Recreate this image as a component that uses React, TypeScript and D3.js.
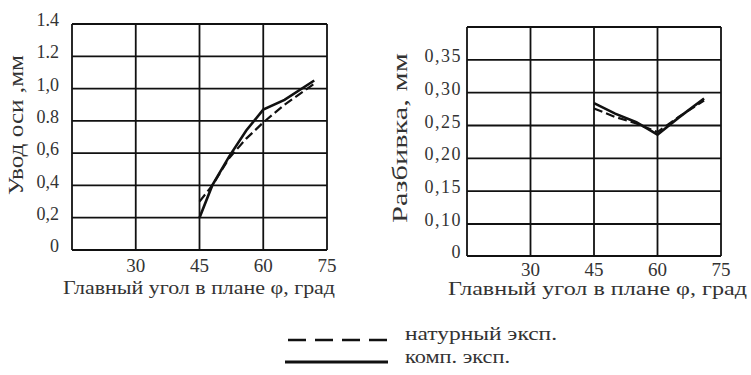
import React from "react";
import * as d3 from "d3";

// ---------- data ----------
const xTicks = [30, 45, 60, 75];

const leftYTicks = [0, 0.2, 0.4, 0.6, 0.8, 1.0, 1.2, 1.4];
const leftYLabels = ["0", "0,2", "0,4", "0,6", "0.8", "1,0", "1.2", "1.4"];

const leftAngle = [45, 48, 52, 56, 60, 65, 72];
const leftComp = [0.2, 0.4, 0.58, 0.74, 0.87, 0.93, 1.05];
const leftNat = [0.3, 0.4, 0.57, 0.69, 0.79, 0.9, 1.03];

const rightYTicks = [0, 0.1, 0.15, 0.2, 0.25, 0.3, 0.35, 0.4];
const rightYLabels = ["0", "0,10", "0,15", "0,20", "0,25", "0,30", "0,35", ""];

const rightAngle = [45, 50, 55, 60, 65, 71];
const rightComp = [0.284, 0.268, 0.255, 0.236, 0.262, 0.291];
const rightNat = [0.276, 0.263, 0.253, 0.24, 0.263, 0.288];

const xTitle = "Главный угол в плане φ, град";
const leftYTitle = "Увод оси ,мм";
const rightYTitle = "Разбивка, мм";
const legendNat = "натурный эксп.";
const legendComp = "комп. эксп.";

const FONT = "'Liberation Serif', 'DejaVu Serif', serif";
const INK = "#111";
const TXT = "#333";

type Panel = {
  x: d3.ScaleLinear<number, number>;
  y: d3.ScaleLinear<number, number>;
  yTicks: number[];
  yLabels: string[];
  angle: number[];
  comp: number[];
  nat: number[];
  yTitle: string;
  yTitlePos: [number, number, number];
  labelEnd: number;
  labelSpacing: number;
  tickY: number;
  titleY: number;
  titleSpan: [number, number];
};

function PanelView({ p }: { p: Panel }) {
  const [x0, x1] = p.x.range();
  const yBottom = p.y(p.yTicks[0]);
  const yTop = p.y(p.yTicks[p.yTicks.length - 1]);
  const line = (vals: number[]) =>
    d3
      .line<number>()
      .x((_, i) => p.x(p.angle[i]))
      .y((v) => p.y(v))
      .curve(d3.curveLinear)(vals) || "";
  return (
    <g>
      {/* horizontal grid */}
      {p.yTicks.map((t) => (
        <line key={"h" + t} x1={x0} x2={x1} y1={p.y(t)} y2={p.y(t)} stroke={INK} strokeWidth={1.8} />
      ))}
      {/* vertical grid */}
      {[15, ...xTicks].map((t) => (
        <line key={"v" + t} x1={p.x(t)} x2={p.x(t)} y1={yTop} y2={yBottom} stroke={INK} strokeWidth={1.8} />
      ))}
      {/* y labels */}
      {p.yTicks.map((t, i) => (
        <text
          key={"yl" + t}
          x={p.labelEnd}
          y={p.y(t) - 2}
          textAnchor="end"
          dominantBaseline="middle"
          fontFamily={FONT}
          fontSize={18}
          letterSpacing={p.labelSpacing}
          fill={TXT}
        >
          {p.yLabels[i]}
        </text>
      ))}
      {/* x labels */}
      {xTicks.map((t) => (
        <text
          key={"xl" + t}
          x={p.x(t)}
          y={p.tickY}
          textAnchor="middle"
          dominantBaseline="middle"
          fontFamily={FONT}
          fontSize={19}
          fill={TXT}
        >
          {t}
        </text>
      ))}
      <text
        x={p.titleSpan[0]}
        y={p.titleY}
        dominantBaseline="middle"
        fontFamily={FONT}
        fontSize={19}
        textLength={p.titleSpan[1] - p.titleSpan[0]}
        lengthAdjust="spacingAndGlyphs"
        fill={TXT}
      >
        {xTitle}
      </text>
      <text
        transform={`translate(${p.yTitlePos[0]},${p.yTitlePos[1]}) rotate(-90)`}
        textAnchor="middle"
        dominantBaseline="middle"
        fontFamily={FONT}
        fontSize={20}
        textLength={p.yTitlePos[2]}
        lengthAdjust="spacingAndGlyphs"
        fill={TXT}
      >
        {p.yTitle}
      </text>
      {/* data */}
      <path d={line(p.nat)} fill="none" stroke={INK} strokeWidth={2.2} strokeDasharray="9,4" />
      <path d={line(p.comp)} fill="none" stroke={INK} strokeWidth={2.6} />
    </g>
  );
}

export default function App() {
  const leftX = d3.scaleLinear().domain([15, 75]).range([72, 327]);
  const leftY = d3.scaleLinear().domain([0, 1.4]).range([250, 24]);
  const rightX = d3.scaleLinear().domain([15, 75]).range([467, 721]);
  const rightY = d3.scaleLinear().domain([0, 0.1, 0.4]).range([256, 224, 27]);

  const left: Panel = {
    x: leftX,
    y: leftY,
    yTicks: leftYTicks,
    yLabels: leftYLabels,
    angle: leftAngle,
    comp: leftComp,
    nat: leftNat,
    yTitle: leftYTitle,
    yTitlePos: [18, 125, 140],
    labelEnd: 59,
    labelSpacing: 0,
    tickY: 268,
    titleY: 290,
    titleSpan: [63, 335],
  };
  const right: Panel = {
    x: rightX,
    y: rightY,
    yTicks: rightYTicks,
    yLabels: rightYLabels,
    angle: rightAngle,
    comp: rightComp,
    nat: rightNat,
    yTitle: rightYTitle,
    yTitlePos: [402, 138, 170],
    labelEnd: 462,
    labelSpacing: 1.5,
    tickY: 272,
    titleY: 291,
    titleSpan: [448, 747],
  };

  return (
    <svg
      width={751}
      height={375}
      viewBox="0 0 751 375"
      style={{ position: "absolute", left: 0, top: 0, background: "#fff" }}
    >
      <rect width={751} height={375} fill="#fff" />
      <PanelView p={left} />
      <PanelView p={right} />
      {/* legend */}
      <line x1={288} x2={388} y1={340} y2={340} stroke={INK} strokeWidth={2.4} strokeDasharray="18,9" />
      <text x={405} y={336} dominantBaseline="middle" fontFamily={FONT} fontSize={19} textLength={152} lengthAdjust="spacingAndGlyphs" fill={TXT}>
        {legendNat}
      </text>
      <line x1={285} x2={388} y1={362} y2={362} stroke={INK} strokeWidth={3.2} />
      <text x={405} y={359} dominantBaseline="middle" fontFamily={FONT} fontSize={19} textLength={105} lengthAdjust="spacingAndGlyphs" fill={TXT}>
        {legendComp}
      </text>
    </svg>
  );
}
